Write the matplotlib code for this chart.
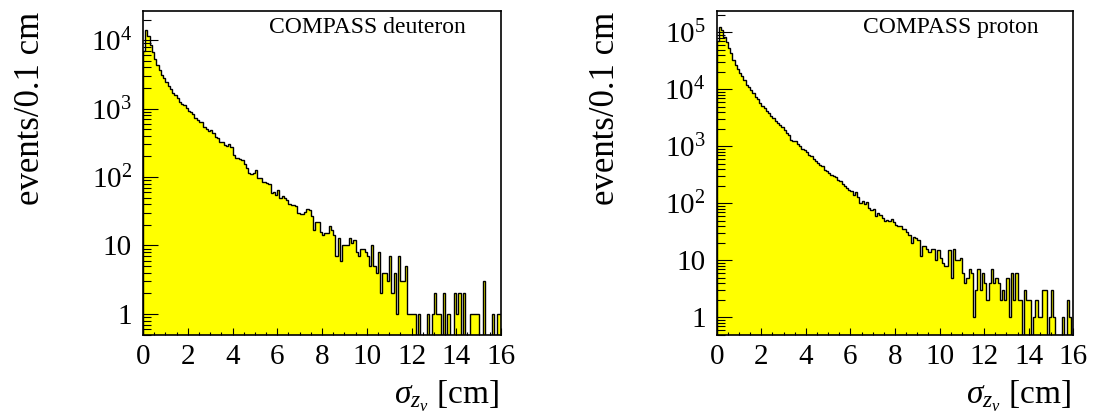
import numpy as np
import matplotlib
matplotlib.use("Agg")
import matplotlib.pyplot as plt
from matplotlib.ticker import LogLocator, FuncFormatter, NullFormatter, MultipleLocator

plt.rcParams['font.family'] = ['Liberation Serif', 'DejaVu Serif']
plt.rcParams['mathtext.fontset'] = 'custom'
plt.rcParams['mathtext.rm'] = 'Liberation Serif'
plt.rcParams['mathtext.it'] = 'Liberation Serif:italic'
plt.rcParams['mathtext.bf'] = 'Liberation Serif:bold'

# Histogram binning: 0.1 cm bins from 0 to 16 cm
sigma_lo, sigma_hi, n_bins = 0.0, 16.0, 160

deuteron_counts = [
    7000, 14300, 11560, 8650, 6760, 5280, 4320, 3650, 3150, 2820,
    2410, 2150, 1930, 1720, 1570, 1440, 1260, 1180, 1125, 1006,
    920, 880, 822, 718, 679, 643, 629, 543, 502, 470,
    486, 434, 388, 367, 328, 321, 293, 287, 300, 277,
    209, 191, 187, 183, 177, 153, 137, 113, 112, 116,
    128, 98, 96, 85, 85, 81, 79, 58, 61, 55,
    65, 49, 52, 50, 46, 40, 39, 39, 38, 30,
    29, 29, 31, 34, 33, 27, 17, 22, 22, 16,
    14, 15, 15, 19, 17, 14, 7, 13, 6, 10,
    10, 10, 13, 11, 12, 8, 7, 9, 9, 8,
    7, 5, 10, 5, 4, 8, 2, 4, 4, 3,
    7, 2, 4, 1, 7, 3, 3, 5, 1, 1,
    1, 1, 0, 1, 0, 0, 0, 1, 0, 1,
    2, 1, 1, 0, 2, 0, 1, 0, 0, 2,
    1, 2, 0, 2, 0, 0, 1, 1, 1, 1,
    0, 0, 3, 0, 0, 0, 1, 0, 1, 1,
]

proton_counts = [
    70000, 125400, 109700, 83800, 68500, 52400, 42800, 32700, 26800, 22500,
    19700, 17200, 14600, 11960, 10900, 9780, 8550, 7470, 6720, 5720,
    5130, 4680, 4250, 3820, 3430, 3120, 2840, 2620, 2390, 2170,
    1950, 1750, 1600, 1300, 1220, 1220, 1110, 995, 896, 848,
    782, 713, 666, 598, 544, 510, 476, 445, 378, 364,
    341, 318, 306, 290, 253, 243, 221, 199, 186, 174,
    163, 142, 156, 129, 102, 109, 99, 104, 83, 76,
    80, 61, 68, 62, 55, 50, 52, 49, 53, 47,
    42, 40, 40, 35, 36, 32, 28, 20, 26, 25,
    23, 12, 18, 18, 16, 14, 16, 16, 10, 15,
    11, 9, 8, 8, 15, 5, 16, 10, 10, 11,
    6, 4, 5, 7, 6, 1, 3, 7, 3, 6,
    4, 2, 4, 7, 4, 5, 4, 2, 3, 2,
    5, 1, 6, 2, 6, 2, 2, 0, 3, 2,
    2, 0, 1, 2, 1, 1, 3, 3, 0, 1,
    3, 1, 0, 0, 0, 1, 0, 2, 1, 0,
]

panel_titles = ["COMPASS deuteron", "COMPASS proton"]
y_label = "events/0.1 cm"
x_label = r"$\sigma_{z_{v}}$ [cm]"
y_ranges = [(0.5, 2.7e4), (0.5, 2.4e5)]

edges = np.linspace(sigma_lo, sigma_hi, n_bins + 1)
floor = 1e-3  # empty bins drop below the visible range on the log axis


def decade_label(v, pos):
    if np.isclose(v, 1):
        return "1"
    if np.isclose(v, 10):
        return "10"
    return r"$10^{%d}$" % int(round(np.log10(v)))


fig = plt.figure(figsize=(10.96, 4.15), dpi=100)
axes_rects = [
    [143 / 1096, 1 - 334.5 / 415, 358 / 1096, 323.8 / 415],
    [716.7 / 1096, 1 - 334.5 / 415, 356.6 / 1096, 323.8 / 415],
]

for rect, counts, title, yr in zip(axes_rects, [deuteron_counts, proton_counts],
                                   panel_titles, y_ranges):
    ax = fig.add_axes(rect)
    c = np.asarray(counts, dtype=float)
    shown = np.where(c > 0, c, floor)
    ax.stairs(shown, edges, baseline=floor, fill=True, color="#ffff00", lw=0)
    ax.stairs(shown, edges, baseline=floor, fill=False, color="black", lw=1.0)

    ax.set_yscale("log")
    ax.set_xlim(sigma_lo, sigma_hi)
    ax.set_ylim(*yr)

    ax.xaxis.set_major_locator(MultipleLocator(2))
    ax.xaxis.set_minor_locator(MultipleLocator(0.5))
    ax.yaxis.set_major_locator(LogLocator(base=10, subs=(1.0,), numticks=20))
    ax.yaxis.set_minor_locator(LogLocator(base=10, subs=np.arange(2, 10),
                                          numticks=20))
    ax.yaxis.set_major_formatter(FuncFormatter(decade_label))
    ax.yaxis.set_minor_formatter(NullFormatter())

    ax.tick_params(axis="both", which="both", direction="in", top=False,
                   right=False, width=0.8, labelsize=21)
    ax.tick_params(axis="x", which="major", length=5, pad=7)
    ax.tick_params(axis="x", which="minor", length=2.5)
    ax.tick_params(axis="y", which="major", length=11, pad=8)
    ax.tick_params(axis="y", which="minor", length=5.5)
    for sp in ax.spines.values():
        sp.set_linewidth(1.2)

    ax.text(0.902, 0.947, title, transform=ax.transAxes, ha="right",
            va="center", fontsize=17)
    ax.text(-0.313, 0.997, y_label, transform=ax.transAxes, rotation=90,
            ha="center", va="top", fontsize=25)
    ax.text(0.995, -0.2146, x_label, transform=ax.transAxes, ha="right",
            va="baseline", fontsize=24)

fig.savefig("out.png", dpi=100)
